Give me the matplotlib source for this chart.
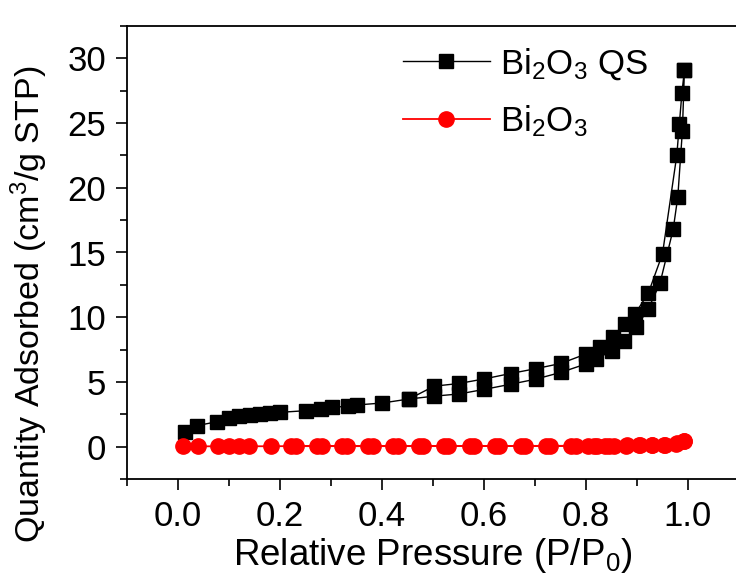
"""
N2 adsorption-desorption isotherms of Bi2O3 QS and bulk Bi2O3.
"""

import matplotlib
matplotlib.use("Agg")
import matplotlib.pyplot as plt
from matplotlib.ticker import MultipleLocator

# Bi2O3 QS, adsorption branch (lower) then desorption branch (upper)
qs_ads_p = [0.013, 0.037, 0.077, 0.100, 0.119, 0.141, 0.161, 0.180, 0.200, 0.251,
            0.281, 0.301, 0.333, 0.351, 0.400, 0.453, 0.502, 0.551, 0.600, 0.652,
            0.701, 0.751, 0.800, 0.820, 0.850, 0.874, 0.898, 0.922, 0.945, 0.971,
            0.980, 0.989, 0.993]
qs_ads_q = [1.16, 1.62, 1.93, 2.21, 2.34, 2.44, 2.52, 2.60, 2.65, 2.78,
            2.91, 3.05, 3.11, 3.22, 3.37, 3.68, 3.90, 4.07, 4.42, 4.82,
            5.21, 5.74, 6.39, 6.77, 7.41, 8.19, 9.21, 10.63, 12.61, 16.8,
            19.3, 24.4, 29.1]
qs_des_p = [0.993, 0.988, 0.983, 0.978, 0.950, 0.922, 0.896, 0.876, 0.853, 0.827,
            0.800, 0.751, 0.701, 0.652, 0.600, 0.551, 0.502, 0.453]
qs_des_q = [29.1, 27.3, 24.9, 22.5, 14.9, 11.84, 10.25, 9.45, 8.44, 7.67,
            7.16, 6.43, 6.02, 5.65, 5.23, 4.88, 4.67, 3.68]

# Bi2O3 (bulk)
bo_ads_p = [0.010, 0.040, 0.078, 0.100, 0.120, 0.140, 0.182, 0.222, 0.272, 0.322,
            0.372, 0.422, 0.472, 0.522, 0.572, 0.622, 0.672, 0.722, 0.770, 0.803,
            0.821, 0.838, 0.855, 0.879, 0.903, 0.929, 0.952, 0.976, 0.993]
bo_ads_q = [0.02, 0.02, 0.03, 0.03, 0.03, 0.03, 0.03, 0.04, 0.04, 0.04,
            0.04, 0.04, 0.04, 0.04, 0.05, 0.05, 0.05, 0.05, 0.06, 0.06,
            0.06, 0.07, 0.07, 0.08, 0.09, 0.10, 0.12, 0.22, 0.46]
bo_des_p = [0.993, 0.978, 0.955, 0.930, 0.905, 0.880, 0.845, 0.815, 0.780, 0.730,
            0.680, 0.630, 0.580, 0.530, 0.480, 0.432, 0.382, 0.332, 0.282, 0.232]
bo_des_q = [0.46, 0.25, 0.14, 0.11, 0.10, 0.09, 0.08, 0.07, 0.07, 0.06,
            0.06, 0.05, 0.05, 0.05, 0.05, 0.04, 0.04, 0.04, 0.04, 0.04]

plt.rcParams["font.family"] = ["Liberation Sans", "DejaVu Sans"]
plt.rcParams["mathtext.fontset"] = "custom"
plt.rcParams["mathtext.rm"] = "Liberation Sans"
plt.rcParams["mathtext.it"] = "Liberation Sans"


def plot_isotherms():
    fig = plt.figure(figsize=(7.36, 5.81), dpi=100)
    ax = fig.add_axes([127 / 736, 102 / 581, 612 / 736, 453 / 581])

    ax.plot(qs_ads_p + qs_des_p, qs_ads_q + qs_des_q, color="black", lw=1.0,
            marker="s", ms=9.5, mec="black", mfc="black",
            label=r"Bi$_2$O$_3$ QS")
    ax.plot(bo_ads_p + bo_des_p, bo_ads_q + bo_des_q, color="red", lw=1.3,
            marker="o", ms=11, mec="red", mfc="red",
            label=r"Bi$_2$O$_3$")

    ax.set_xlim(-0.1, 1.1)
    ax.set_ylim(-2.5, 32.5)
    ax.xaxis.set_major_locator(MultipleLocator(0.2))
    ax.xaxis.set_minor_locator(MultipleLocator(0.1))
    ax.yaxis.set_major_locator(MultipleLocator(5))
    ax.yaxis.set_minor_locator(MultipleLocator(2.5))
    ax.set_xticks([0.0, 0.2, 0.4, 0.6, 0.8, 1.0])
    ax.set_xticklabels(["0.0", "0.2", "0.4", "0.6", "0.8", "1.0"])

    ax.tick_params(which="major", direction="out", length=8, width=1.2,
                   labelsize=25, pad=7, top=False, right=False)
    ax.tick_params(which="minor", direction="out", length=5, width=1.2,
                   top=False, right=False)
    for s in ax.spines.values():
        s.set_linewidth(1.3)

    ax.set_xlabel(r"Relative Pressure (P/P$_0$)", fontsize=26.5, labelpad=2)
    ax.set_ylabel(r"Quantity Adsorbed (cm$^3$/g STP)", fontsize=24.5)
    ax.yaxis.set_label_coords(-0.125, 0.385)

    ax.legend(loc="upper left", bbox_to_anchor=(0.4, 1.025), frameon=False,
              fontsize=25, handlelength=2.5, handletextpad=0.3,
              labelspacing=0.62, markerscale=1.0)

    fig.savefig("out.png", dpi=100)
    plt.close(fig)


if __name__ == "__main__":
    plot_isotherms()
